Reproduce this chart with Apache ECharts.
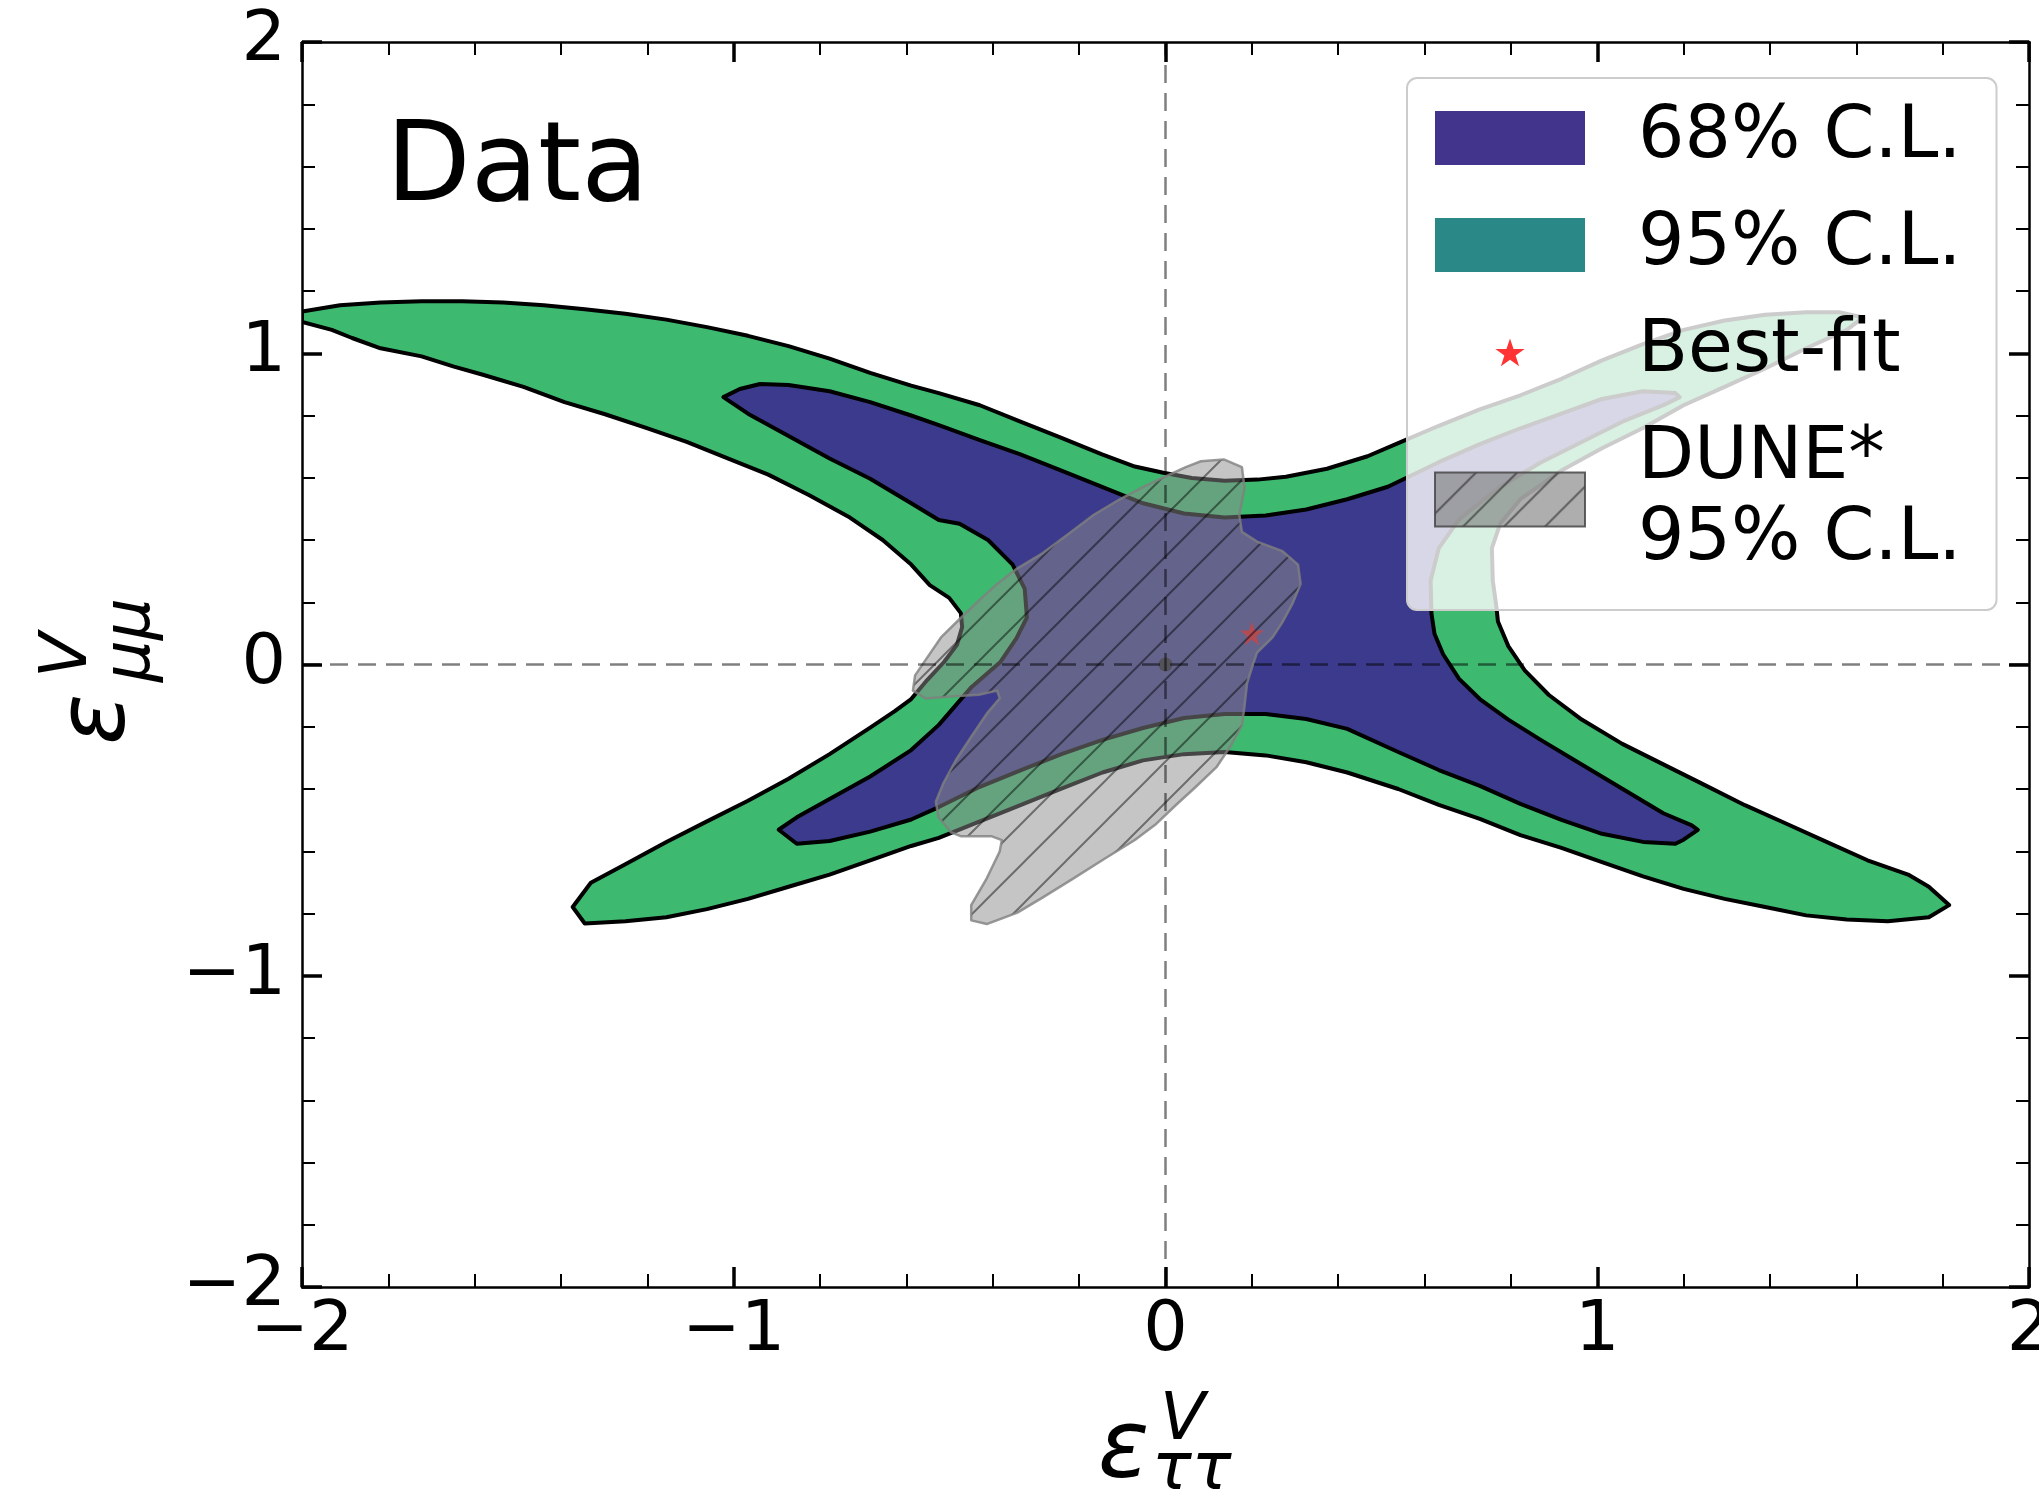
<!DOCTYPE html>
<html><head><meta charset="utf-8">
<script src="https://cdn.jsdelivr.net/npm/echarts/dist/echarts.min.js"></script>
<style>html,body{margin:0;padding:0;background:#fff}#main{width:2039px;height:1497px}</style>
</head><body><div id="main"></div>
<script>
// ---- data ----
const contour95 = [[-2.000,1.134],[-1.912,1.154],[-1.818,1.163],[-1.723,1.167],[-1.629,1.167],[-1.534,1.163],[-1.440,1.154],[-1.345,1.141],[-1.251,1.127],[-1.156,1.108],[-1.062,1.084],[-0.967,1.056],[-0.873,1.023],[-0.778,0.983],[-0.684,0.937],[-0.589,0.896],[-0.525,0.872],[-0.430,0.833],[-0.336,0.780],[-0.241,0.728],[-0.147,0.675],[-0.071,0.636],[-0.005,0.616],[0.061,0.599],[0.137,0.590],[0.213,0.594],[0.279,0.603],[0.374,0.629],[0.468,0.669],[0.539,0.711],[0.633,0.767],[0.728,0.820],[0.822,0.865],[0.917,0.918],[1.011,0.977],[1.106,1.029],[1.200,1.075],[1.295,1.105],[1.389,1.124],[1.484,1.132],[1.560,1.132],[1.616,1.115],[1.578,1.075],[1.484,1.016],[1.389,0.951],[1.295,0.892],[1.200,0.833],[1.106,0.760],[1.011,0.695],[0.917,0.623],[0.822,0.531],[0.775,0.452],[0.756,0.374],[0.758,0.269],[0.766,0.190],[0.770,0.138],[0.794,0.059],[0.832,-0.019],[0.888,-0.098],[0.964,-0.177],[1.058,-0.255],[1.153,-0.321],[1.247,-0.386],[1.342,-0.452],[1.437,-0.511],[1.531,-0.570],[1.626,-0.629],[1.720,-0.675],[1.768,-0.714],[1.815,-0.773],[1.768,-0.812],[1.673,-0.825],[1.578,-0.819],[1.484,-0.806],[1.389,-0.779],[1.295,-0.753],[1.200,-0.721],[1.106,-0.681],[1.011,-0.635],[0.917,-0.589],[0.822,-0.548],[0.728,-0.496],[0.633,-0.451],[0.539,-0.400],[0.421,-0.347],[0.326,-0.314],[0.232,-0.292],[0.137,-0.281],[0.043,-0.288],[-0.052,-0.308],[-0.146,-0.347],[-0.241,-0.399],[-0.336,-0.452],[-0.430,-0.504],[-0.525,-0.557],[-0.589,-0.583],[-0.684,-0.629],[-0.778,-0.675],[-0.873,-0.714],[-0.967,-0.753],[-1.062,-0.786],[-1.156,-0.812],[-1.251,-0.825],[-1.345,-0.832],[-1.373,-0.779],[-1.331,-0.701],[-1.251,-0.642],[-1.156,-0.570],[-1.062,-0.504],[-0.967,-0.438],[-0.873,-0.367],[-0.778,-0.288],[-0.684,-0.203],[-0.627,-0.150],[-0.589,-0.111],[-0.552,-0.050],[-0.513,0.008],[-0.483,0.063],[-0.471,0.120],[-0.474,0.165],[-0.501,0.214],[-0.546,0.255],[-0.589,0.321],[-0.655,0.400],[-0.731,0.472],[-0.825,0.544],[-0.920,0.610],[-1.014,0.662],[-1.109,0.715],[-1.203,0.760],[-1.298,0.804],[-1.392,0.843],[-1.487,0.892],[-1.581,0.931],[-1.648,0.957],[-1.723,0.990],[-1.818,1.016],[-1.884,1.049],[-1.931,1.075],[-2.000,1.101]];

const contour68 = [[-1.024,0.859],[-0.986,0.885],[-0.939,0.901],[-0.873,0.898],[-0.778,0.878],[-0.684,0.843],[-0.589,0.800],[-0.525,0.769],[-0.430,0.721],[-0.336,0.675],[-0.241,0.623],[-0.147,0.571],[-0.052,0.518],[0.043,0.485],[0.137,0.472],[0.232,0.479],[0.326,0.498],[0.421,0.531],[0.515,0.571],[0.633,0.650],[0.728,0.708],[0.822,0.759],[0.917,0.806],[1.011,0.853],[1.106,0.878],[1.181,0.872],[1.191,0.859],[1.153,0.833],[1.058,0.780],[0.964,0.715],[0.869,0.649],[0.775,0.571],[0.680,0.466],[0.633,0.374],[0.614,0.269],[0.616,0.164],[0.623,0.099],[0.643,0.033],[0.680,-0.046],[0.728,-0.111],[0.794,-0.177],[0.869,-0.242],[0.964,-0.321],[1.058,-0.399],[1.153,-0.478],[1.219,-0.517],[1.233,-0.531],[1.200,-0.563],[1.181,-0.576],[1.106,-0.570],[1.011,-0.544],[0.917,-0.499],[0.822,-0.448],[0.728,-0.390],[0.633,-0.339],[0.539,-0.281],[0.421,-0.207],[0.326,-0.175],[0.232,-0.159],[0.137,-0.159],[0.043,-0.172],[-0.052,-0.204],[-0.146,-0.242],[-0.241,-0.288],[-0.336,-0.340],[-0.430,-0.393],[-0.525,-0.458],[-0.589,-0.498],[-0.684,-0.537],[-0.778,-0.567],[-0.854,-0.576],[-0.896,-0.531],[-0.854,-0.491],[-0.778,-0.432],[-0.684,-0.360],[-0.589,-0.275],[-0.525,-0.194],[-0.449,-0.072],[-0.383,0.007],[-0.345,0.085],[-0.321,0.151],[-0.326,0.243],[-0.354,0.321],[-0.411,0.400],[-0.477,0.452],[-0.525,0.464],[-0.589,0.518],[-0.684,0.597],[-0.778,0.662],[-0.873,0.734],[-0.967,0.806]];

const duneContour = [[0.082,0.653],[0.135,0.659],[0.177,0.634],[0.183,0.567],[0.171,0.481],[0.177,0.426],[0.212,0.395],[0.271,0.364],[0.307,0.321],[0.313,0.259],[0.295,0.198],[0.271,0.136],[0.248,0.087],[0.212,0.038],[0.200,-0.011],[0.189,-0.060],[0.183,-0.134],[0.177,-0.195],[0.153,-0.257],[0.118,-0.330],[0.071,-0.392],[0.023,-0.453],[-0.024,-0.515],[-0.071,-0.564],[-0.142,-0.625],[-0.213,-0.687],[-0.284,-0.748],[-0.343,-0.797],[-0.414,-0.834],[-0.450,-0.822],[-0.450,-0.773],[-0.414,-0.687],[-0.384,-0.601],[-0.379,-0.564],[-0.402,-0.552],[-0.473,-0.552],[-0.497,-0.539],[-0.526,-0.490],[-0.532,-0.441],[-0.514,-0.380],[-0.485,-0.306],[-0.450,-0.232],[-0.414,-0.158],[-0.384,-0.109],[-0.390,-0.084],[-0.432,-0.097],[-0.497,-0.103],[-0.556,-0.109],[-0.585,-0.084],[-0.580,-0.035],[-0.556,0.014],[-0.520,0.087],[-0.479,0.143],[-0.438,0.198],[-0.390,0.259],[-0.343,0.309],[-0.284,0.358],[-0.225,0.419],[-0.166,0.481],[-0.107,0.530],[-0.048,0.573],[0.000,0.604],[0.047,0.634]];

const bestFit = [[0.2, 0.1]];
const smPoint = [[0, 0]];
const zeroLineV = [[0, -2], [0, 2]];
const zeroLineH = [[-2, 0], [2, 0]];
const xTickValues = [-2, -1, 0, 1, 2];
const xTickLabels = ['−2', '−1', '0', '1', '2'];
const yTickValues = [-2, -1, 0, 1, 2];
const yTickLabels = ['−2', '−1', '0', '1', '2'];
const legendNames = ['68% C.L.', '95% C.L.', 'Best-fit', 'DUNE*\n95% C.L.'];

// ---- styling helpers ----
function makeHatch(step, bg, line, lw) {
  const c = document.createElement('canvas');
  c.width = step; c.height = step;
  const g = c.getContext('2d');
  g.fillStyle = bg; g.fillRect(0, 0, step, step);
  g.strokeStyle = line; g.lineWidth = lw;
  g.beginPath();
  for (let k = 0; k <= 2; k++) {
    g.moveTo(-step, (k + 1) * step);
    g.lineTo(2 * step, (k - 2) * step);
  }
  g.stroke();
  return c;
}
const hatchPlot = { image: makeHatch(41, 'rgba(140,140,140,0.5)', 'rgba(0,0,0,0.45)', 2), repeat: 'repeat' };
const hatchLegend = { image: makeHatch(41, 'rgba(120,120,120,0.6)', 'rgba(0,0,0,0.45)', 2), repeat: 'repeat' };

const starPath = 'path://M50,0 L61.8,35.1 L98.8,35.1 L68.8,57 L80.3,92.7 L50,70.6 L19.7,92.7 L31.2,57 L1.2,35.1 L38.2,35.1 Z';
const starLegendPath = 'path://M-40,-45 M140,135 M50,0 L61.8,35.1 L98.8,35.1 L68.8,57 L80.3,92.7 L50,70.6 L19.7,92.7 L31.2,57 L1.2,35.1 L38.2,35.1 Z';

function polygonSeries(name, pts, fill, stroke, lw, z) {
  return {
    name: name, type: 'custom', coordinateSystem: 'cartesian2d',
    data: pts, encode: { x: 0, y: 1 }, clip: true, silent: true, z: z,
    itemStyle: { color: fill },
    renderItem: function (params, api) {
      if (params.dataIndex !== 0) return null;
      const points = pts.map(function (p) { return api.coord(p); });
      return { type: 'polygon', shape: { points: points },
        style: { fill: fill, stroke: stroke, lineWidth: lw, lineJoin: 'round' } };
    }
  };
}

const FONT = 'DejaVu Sans';
function axisCommon(showLabel, labels, values, margin) {
  return {
    type: 'value', min: -2, max: 2, interval: 1,
    axisLine: { show: true, onZero: false, lineStyle: { color: '#000', width: 2.5 } },
    axisTick: { show: true, inside: true, length: 20, lineStyle: { color: '#000', width: 3.5 } },
    minorTick: { show: true, splitNumber: 5, length: 13, lineStyle: { color: '#000', width: 2 } },
    splitLine: { show: false }, minorSplitLine: { show: false },
    axisLabel: {
      show: showLabel, fontSize: 70, fontFamily: FONT, color: '#000', margin: margin,
      hideOverlap: false, showMinLabel: true, showMaxLabel: true,
      formatter: function (v) { const i = values.indexOf(Math.round(v)); return i >= 0 ? labels[i] : ''; }
    }
  };
}

const chart = echarts.init(document.getElementById('main'), null, { renderer: 'canvas' });
const italic = function (size) { return 'italic ' + size + 'px "' + FONT + '"'; };

chart.setOption({
  backgroundColor: '#ffffff',
  animation: false,
  grid: { left: 302, right: 10, top: 42, bottom: 210, containLabel: false, outerBoundsMode: 'none' },
  xAxis: [
    Object.assign(axisCommon(true, xTickLabels, xTickValues, 10), { position: 'bottom' }),
    Object.assign(axisCommon(false, xTickLabels, xTickValues, 10), { position: 'top' })
  ],
  yAxis: [
    Object.assign(axisCommon(true, yTickLabels, yTickValues, 16), { position: 'left' }),
    Object.assign(axisCommon(false, yTickLabels, yTickValues, 16), { position: 'right' })
  ],
  legend: {
    orient: 'vertical', left: 1407, top: 78, z: 10, selectedMode: false,
    padding: [19.5, 35, 29.5, 27], itemGap: 26, itemWidth: 150, itemHeight: 54,
    backgroundColor: 'rgba(255,255,255,0.8)', borderColor: '#cccccc', borderWidth: 2, borderRadius: 10,
    textStyle: { fontSize: 73, fontFamily: FONT, color: '#000', lineHeight: 81, padding: [0, 0, 0, 48] },
    data: [
      { name: legendNames[0], icon: 'rect', itemStyle: { color: '#42338d', borderWidth: 0 } },
      { name: legendNames[1], icon: 'rect', itemStyle: { color: '#2a8886', borderWidth: 0 } },
      { name: legendNames[2], icon: starLegendPath, itemStyle: { color: '#ff0000', borderWidth: 0 } },
      { name: legendNames[3], icon: 'rect', itemStyle: { color: hatchLegend, borderColor: 'rgba(70,70,70,0.85)', borderWidth: 2 } }
    ]
  },
  graphic: [
    { type: 'text', x: 386, y: 171.7, z: 5,
      style: { text: 'Data', font: '110px "' + FONT + '"', fill: '#000', align: 'left', verticalAlign: 'middle' } },
    { type: 'group', x: 1103, y: 1485, rotation: 0, children: [
      { type: 'text', x: -5, y: -32.9, style: { text: 'ε', font: italic(95), fill: '#000', align: 'left', verticalAlign: 'middle' } },
      { type: 'text', x: 57, y: -62.8, style: { text: 'V', font: italic(66), fill: '#000', align: 'left', verticalAlign: 'middle' } },
      { type: 'text', x: 49, y: -13, style: { text: 'ττ', font: italic(66), fill: '#000', align: 'left', verticalAlign: 'middle' } }
    ] },
    { type: 'group', x: 132, y: 740, rotation: Math.PI / 2, children: [
      { type: 'text', x: -5, y: -32.9, style: { text: 'ε', font: italic(95), fill: '#000', align: 'left', verticalAlign: 'middle' } },
      { type: 'text', x: 62, y: -62.8, style: { text: 'V', font: italic(66), fill: '#000', align: 'left', verticalAlign: 'middle' } },
      { type: 'text', x: 58, y: 0.2, style: { text: 'μμ', font: italic(66), fill: '#000', align: 'left', verticalAlign: 'middle' } }
    ] }
  ],
  series: [
    polygonSeries(legendNames[1], contour95, '#3dba6f', '#000000', 4, 2),
    polygonSeries(legendNames[0], contour68, '#3c3a8c', '#000000', 4, 3),
    { name: 'SM', type: 'scatter', data: smPoint, symbol: 'circle', symbolSize: 14, silent: true, z: 4,
      itemStyle: { color: '#111111' } },
    { name: legendNames[2], type: 'scatter', data: bestFit, symbol: starPath, symbolSize: 24, silent: true, z: 4,
      itemStyle: { color: '#ff0000' } },
    polygonSeries(legendNames[3], duneContour, hatchPlot, 'rgba(128,128,128,0.8)', 2.5, 5),
    { name: 'zeroV', type: 'line', data: zeroLineV, symbol: 'none', silent: true, z: 6,
      lineStyle: { color: 'rgba(0,0,0,0.5)', width: 2.5, type: [18, 10] } },
    { name: 'zeroH', type: 'line', data: zeroLineH, symbol: 'none', silent: true, z: 6,
      lineStyle: { color: 'rgba(0,0,0,0.5)', width: 2.5, type: [18, 10] } }
  ]
});
</script>
</body></html>
